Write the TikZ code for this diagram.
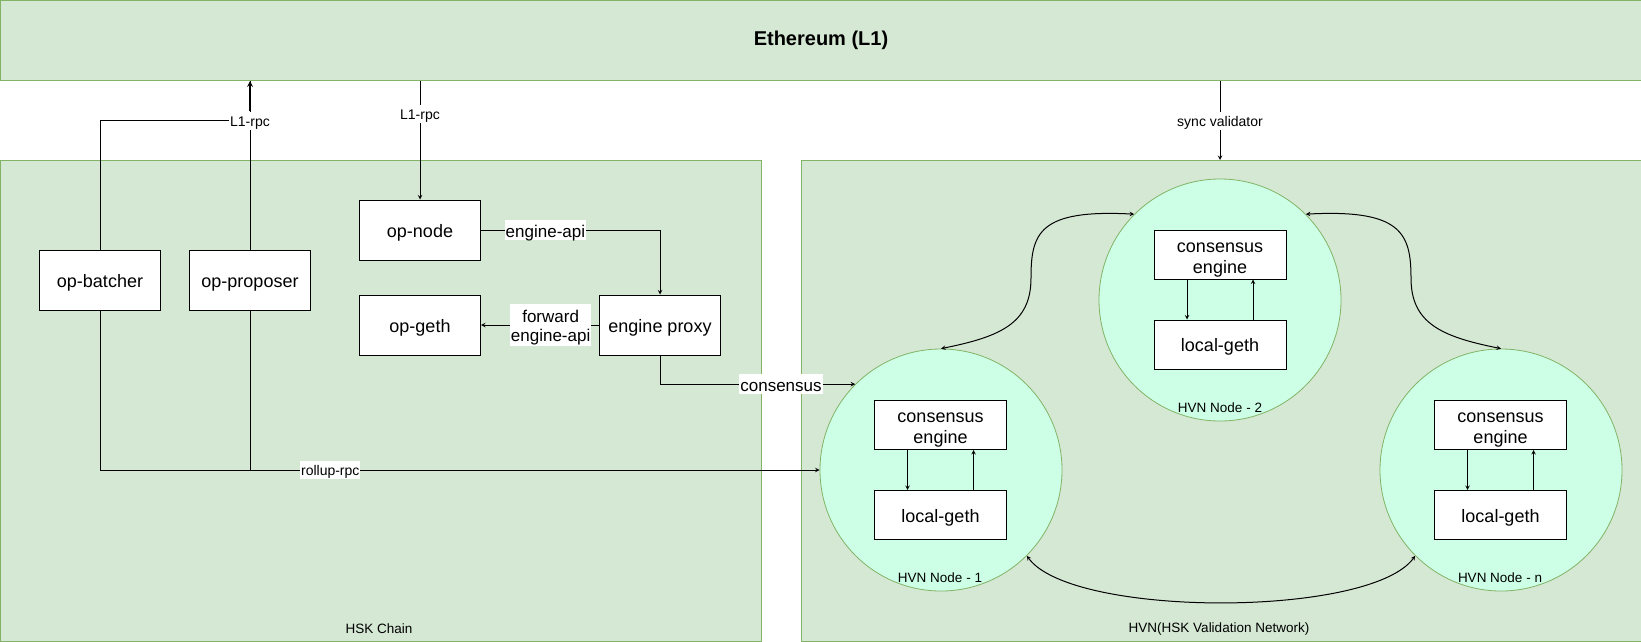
\documentclass[tikz,border=0pt]{standalone}
\usepackage{fontspec}
\setmainfont{Liberation Sans}

\definecolor{grpfill}{HTML}{D5E8D4}
\definecolor{grpline}{HTML}{82B366}
\definecolor{hvnfill}{HTML}{CCFFE6}

\tikzset{
  grp/.style={draw=grpline, fill=grpfill, line width=1pt, inner sep=0pt},
  compbox/.style={draw, fill=white, line width=1pt, minimum width=121pt, minimum height=60pt, inner sep=0pt, font=\fontsize{18}{21}\selectfont, text height=17pt, text depth=2.6pt},
  subbox/.style={draw, fill=white, line width=1pt, minimum width=132pt, minimum height=49pt, inner sep=0pt, align=center, font=\fontsize{18}{21}\selectfont},
  oneline/.style={text height=17pt, text depth=2.6pt},
  hvnnode/.style={circle, draw=grpline, fill=hvnfill, line width=0.8pt, minimum size=242pt, inner sep=0pt},
  lbl/.style={fill=white, inner sep=1pt, font=\fontsize{14}{16}\selectfont, text height=13.6pt, text depth=2.4pt},
  biglbl/.style={fill=white, inner sep=1pt, align=center, font=\fontsize{17}{19}\selectfont},
  grplbl/.style={inner sep=0pt, font=\fontsize{13.5}{15}\selectfont},
}

\begin{document}
\begin{tikzpicture}[>=stealth, x=1pt, y=-1pt, line width=1pt]
    \useasboundingbox (0,0) rectangle (1641,641);
    % groups
    \node[grp, minimum width=1641pt, minimum height=80pt, anchor=north west, font=\bfseries\fontsize{20}{24}\selectfont] (eth) at (0,0) {Ethereum (L1)};
    \node[grp, minimum width=761pt, minimum height=481pt, anchor=north west] (hsk) at (0,160) {};
    \node[grp, minimum width=840pt, minimum height=481pt, anchor=north west] (hvnnet) at (801,160) {};
    \node[grplbl] (hsklbl) at (379,629) {HSK Chain};
    \node[grplbl] (hvnlbl) at (1219,629) {HVN(HSK Validation Network)};

    % op stack
    \node[compbox] (batcher) at (100,280) {op-batcher};
    \node[compbox] (proposer) at (250,280) {op-proposer};
    \node[compbox] (opnode) at (420,230) {op-node};
    \node[compbox] (opgeth) at (420,325) {op-geth};
    \node[compbox] (proxy) at (660,325) {engine proxy};

    % validation nodes
    \node[hvnnode] (hvn2) at (1220,300) {};
    \node[hvnnode] (hvn1) at (941,470) {};
    \node[hvnnode] (hvnn) at (1501,470) {};
    \node[subbox] (ce2) at (1220,254.5) {\rule{0pt}{19.8pt}consensus\\engine};
    \node[subbox, oneline] (lg2) at (1220,344.5) {local-geth};
    \node[subbox] (ce1) at (940.5,425) {\rule{0pt}{19.8pt}consensus\\engine};
    \node[subbox, oneline] (lg1) at (940.5,515) {local-geth};
    \node[subbox] (cen) at (1500.5,425) {\rule{0pt}{19.8pt}consensus\\engine};
    \node[subbox, oneline] (lgn) at (1500.5,515) {local-geth};
    \node[grplbl] (hvn2lbl) at (1220,408) {HVN Node - 2};
    \node[grplbl] (hvn1lbl) at (940,578) {HVN Node - 1};
    \node[grplbl] (hvnnlbl) at (1500,578) {HVN Node - n};

    % L1 links
    \draw (proposer.north) -- (proposer.north |- eth.south) node[pos=0.765, lbl] (rpcup) {L1-rpc};
    \draw[->, line width=1.6pt] (rpcup.north) -- (proposer.north |- eth.south);
    \draw (batcher.north) |- (rpcup.west);
    \draw[->] (opnode.north |- eth.south) -- (opnode.north) node[pos=0.28, lbl] (rpcdown) {L1-rpc};
    \draw[->] (eth.south -| hvn2.north) -- (hvnnet.north -| hvn2.north) node[midway, lbl] (sync) {sync validator};

    % engine api
    \draw[->] (opnode.east) -| (proxy.north) node[pos=0.18, biglbl, text height=16.4pt, text depth=1.6pt] (api) {engine-api};
    \draw[->] (proxy.west) -- (opgeth.east) node[pos=0.41, biglbl] (fwd) {\rule{0pt}{18.2pt}forward\\engine-api};
    \draw[->] (proxy.south) |- (hvn1.135) node[pos=0.81, biglbl, text height=16.4pt, text depth=1.6pt] (cons) {consensus};

    % rollup rpc
    \draw[->] (batcher.south) |- (hvn1.west) node[pos=0.66, lbl] (rollup) {rollup-rpc};
    \draw (proposer.south) -- (proposer.south |- hvn1.west);

    % inside the nodes
    \draw[->] ([xshift=-33pt]ce2.south) -- ([xshift=-33pt]lg2.north);
    \draw[->] ([xshift=33pt]lg2.north) -- ([xshift=33pt]ce2.south);
    \draw[->] ([xshift=-33pt]ce1.south) -- ([xshift=-33pt]lg1.north);
    \draw[->] ([xshift=33pt]lg1.north) -- ([xshift=33pt]ce1.south);
    \draw[->] ([xshift=-33pt]cen.south) -- ([xshift=-33pt]lgn.north);
    \draw[->] ([xshift=33pt]lgn.north) -- ([xshift=33pt]cen.south);

    % peer links
    \draw[<->] (hvn2.135) .. controls +(-95,-5) and +(0,-45) .. (1031,278) .. controls +(0,45) and +(60,-12) .. (hvn1.north);
    \draw[<->] (hvn2.45) .. controls +(95,-5) and +(0,-45) .. (1411,278) .. controls +(0,45) and +(-60,-12) .. (hvnn.north);
    \draw[<->] (hvn1.-45) .. controls +(45,62) and +(-45,62) .. (hvnn.-135);
\end{tikzpicture}
\end{document}
